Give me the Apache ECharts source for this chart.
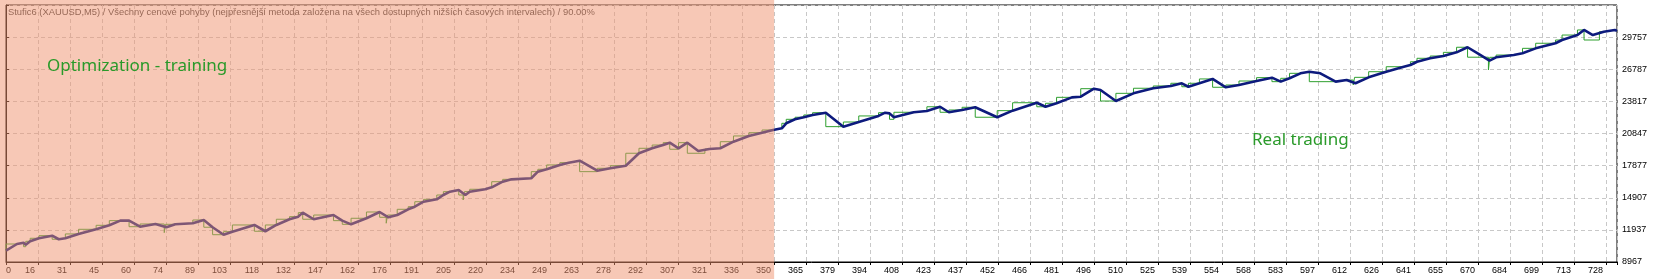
<!DOCTYPE html>
<html><head><meta charset="utf-8">
<script src="https://cdn.jsdelivr.net/npm/echarts@6/dist/echarts.min.js"></script>
<style>html,body{margin:0;padding:0;background:#fff}#c{width:1660px;height:279px}</style>
</head><body><div id="c"></div>
<script>
const TITLE = 'Stufic6 (XAUUSD,M5) / Všechny cenové pohyby (nejpřesnější metoda založena na všech dostupných nižších časových intervalech) / 90.00%';
const LABEL_TRAIN = 'Optimization - training';
const LABEL_REAL = 'Real trading';

const X_TICK_LABELS = ['0','16','31','45','60','74','89','103','118','132','147','162','176','191','205','220','234','249','263','278','292','307','321','336','350','365','379','394','408','423','437','452','466','481','496','510','525','539','554','568','583','597','612','626','641','655','670','684','699','713','728'];
const X_STEP = 14.56;
const X_MAX = 733;
const Y_TICK_LABELS = ['8967','11937','14907','17877','20847','23817','26787','29757','32727'];
const Y_BASE = 8967;
const Y_STEP = 2970;
const TRAINING_END = 349.5;

const equityTrades = [0,5,8,9,11,15,21,24,27,33,41,47,52,56,61,68,73,77,85,90,94,99,103,113,118,123,129,133,135,140,149,153,157,164,170,174,178,183,186,190,196,199,202,206,209,211,218,221,226,230,239,242,246,252,256,261,269,275,282,288,294,299,302,306,310,315,320,325,331,338,344,349,353,355,359,363,367,373,381,388,397,400,402,404,413,419,425,429,435,441,451,458,469,473,478,485,489,495,498,505,513,522,530,535,538,543,549,555,561,569,576,580,584,589,593,598,605,610,614,620,628,636,639,642,648,654,660,665,670,675,678,686,690,696,705,708,715,718,722,727,732,733];
const equityValues = [10010,10630,10750,10570,10880,11160,11400,11070,11160,11560,11990,12360,12790,12790,12230,12480,12180,12450,12550,12850,12180,11490,11770,12390,11810,12390,12920,13160,13530,12920,13310,12790,12450,13010,13590,13100,13310,13840,14080,14540,14760,15160,15470,15620,15160,15470,15690,15870,16390,16610,16710,17320,17540,17940,18150,18330,17410,17630,17870,19020,19480,19780,20000,19480,20000,19230,19410,19480,20090,20620,20920,21170,21330,21790,22160,22350,22560,22770,21480,21910,22470,22770,22710,22350,22810,22930,23320,22810,23020,23270,22350,22960,23690,23320,23640,24190,24250,24990,24870,23850,24560,25030,25240,25490,25170,25490,25890,25120,25330,25700,26010,25640,25950,26410,26560,26410,25640,25790,25490,26040,26560,27020,27180,27480,27800,28010,28350,28820,28200,27580,27890,28100,28260,28720,29190,29490,29950,30420,29950,30260,30420,30330];

const balanceTrades = [0,5,8,9,11,15,21,24,27,33,41,47,52,56,61,68,72,72.6,77,85,90,94,99,103,113,118,123,129,133,135,140,149,153,157,164,170,173,173.6,178,183,186,190,196,199,202,206,208,208.6,211,218,221,226,230,239,242,246,252,256,261,269,275,282,288,294,299,302,306,310,318,320,325,331,338,344,349,353,355,359,363,367,373,381,388,397,400,402,404,413,419,425,429,435,441,451,458,469,473,478,485,489,495,498,505,513,522,530,535,538,543,549,555,561,569,576,580,584,589,593,605,610,613,613.6,620,628,636,639,642,648,654,660,665,674.5,675.1,678,686,690,696,705,708,715,718,725,727,732,733];
const balanceValues = [10010,10630,10750,10380,10880,11160,11400,11070,11160,11560,11990,12360,12790,12790,12230,12480,12480,11680,12450,12550,12850,12180,11490,11770,12390,11810,12390,12920,13160,13530,12920,13310,12790,12450,13010,13590,13100,12550,13310,13840,14080,14540,14760,15160,15470,15620,15160,14700,15470,15690,15870,16390,16610,16710,17320,17540,17940,18150,18330,17320,17630,17870,19020,19480,19780,20000,19390,20000,19020,19410,19480,20090,20620,20920,21170,21330,21790,22160,22350,22560,22770,21480,21910,22470,22770,22710,22160,22810,22930,23320,22810,23020,23270,22350,22960,23690,23320,23640,24190,24250,24990,24870,23850,24560,25030,25240,25490,25170,25490,25890,25120,25330,25700,26010,25640,25950,26410,26560,25640,25790,25790,25330,26040,26560,27020,27180,27480,27800,28010,28350,28820,27900,26720,27890,28100,28260,28720,29190,29490,29950,30420,29490,30260,30420,30330];

const chart = echarts.init(document.getElementById('c'), null, {renderer: 'canvas'});
const toPairs = (xs, ys) => xs.map((x, i) => [x, ys[i] - Y_BASE]);

const axisFont = {fontFamily: '"Liberation Sans", Arial, sans-serif', fontSize: 9, color: '#000'};
const dash = {color: '#c8c8c8', type: [4, 3], width: 1};

chart.setOption({
  animation: false,
  backgroundColor: '#ffffff',
  title: {
    text: TITLE, left: 8, top: 8, padding: 0,
    textStyle: {fontFamily: '"Liberation Sans", Arial, sans-serif', fontSize: 9.4, fontWeight: 'normal', color: '#3c3c3c'}
  },
  grid: {left: 6, top: 5, right: 43, bottom: 17, show: true, borderColor: '#000', borderWidth: 1, backgroundColor: 'transparent'},
  xAxis: {
    type: 'value', min: 0, max: X_MAX, interval: X_STEP,
    axisLine: {show: true, lineStyle: {color: '#000', width: 1}},
    axisTick: {show: true, length: 3, lineStyle: {color: '#000'}},
    splitLine: {show: true, lineStyle: dash},
    axisLabel: Object.assign({}, axisFont, {
      margin: 4, align: 'right', alignMinLabel: 'left', padding: [0, 3, 0, 0],
      formatter: v => {
        const i = Math.round(v / X_STEP);
        return (Math.abs(v - i * X_STEP) < 0.01 && i < X_TICK_LABELS.length) ? X_TICK_LABELS[i] : '';
      }
    })
  },
  yAxis: {
    type: 'value', position: 'right', min: 0, max: Y_STEP * (Y_TICK_LABELS.length - 1), interval: Y_STEP,
    axisLine: {show: true, lineStyle: {color: '#000'}},
    axisTick: {show: true, length: 3, lineStyle: {color: '#000'}},
    splitLine: {show: true, lineStyle: dash},
    axisLabel: Object.assign({}, axisFont, {
      margin: 5,
      formatter: v => {
        const i = Math.round(v / Y_STEP);
        return i < Y_TICK_LABELS.length - 1 ? Y_TICK_LABELS[i] : '';
      }
    })
  },
  series: [
    {name: 'Balance', type: 'line', step: 'start', data: toPairs(balanceTrades, balanceValues), symbol: 'none',
     lineStyle: {color: '#2f9f2f', width: 1}, z: 2},
    {name: 'Equity', type: 'line', data: toPairs(equityTrades, equityValues), symbol: 'none',
     lineStyle: {color: '#0d1a7d', width: 2.6}, z: 3}
  ]
});

const xEnd = chart.convertToPixel({xAxisIndex: 0}, TRAINING_END);
chart.setOption({
  graphic: [
    {type: 'rect', zlevel: 1, z: 1, shape: {x: 0, y: 0, width: xEnd, height: 279},
     style: {fill: 'rgba(239,145,109,0.5)'}, silent: true},
    {type: 'text', zlevel: 1, z: 2, x: 47, y: 66,
     style: {text: LABEL_TRAIN, font: '17px "Noto Sans", sans-serif', fill: '#2a9a2a', verticalAlign: 'middle'}},
    {type: 'text', zlevel: 1, z: 2, x: 1252, y: 140,
     style: {text: LABEL_REAL, font: '17px "Noto Sans", sans-serif', fill: '#2a9a2a', verticalAlign: 'middle'}}
  ]
});
</script></body></html>
